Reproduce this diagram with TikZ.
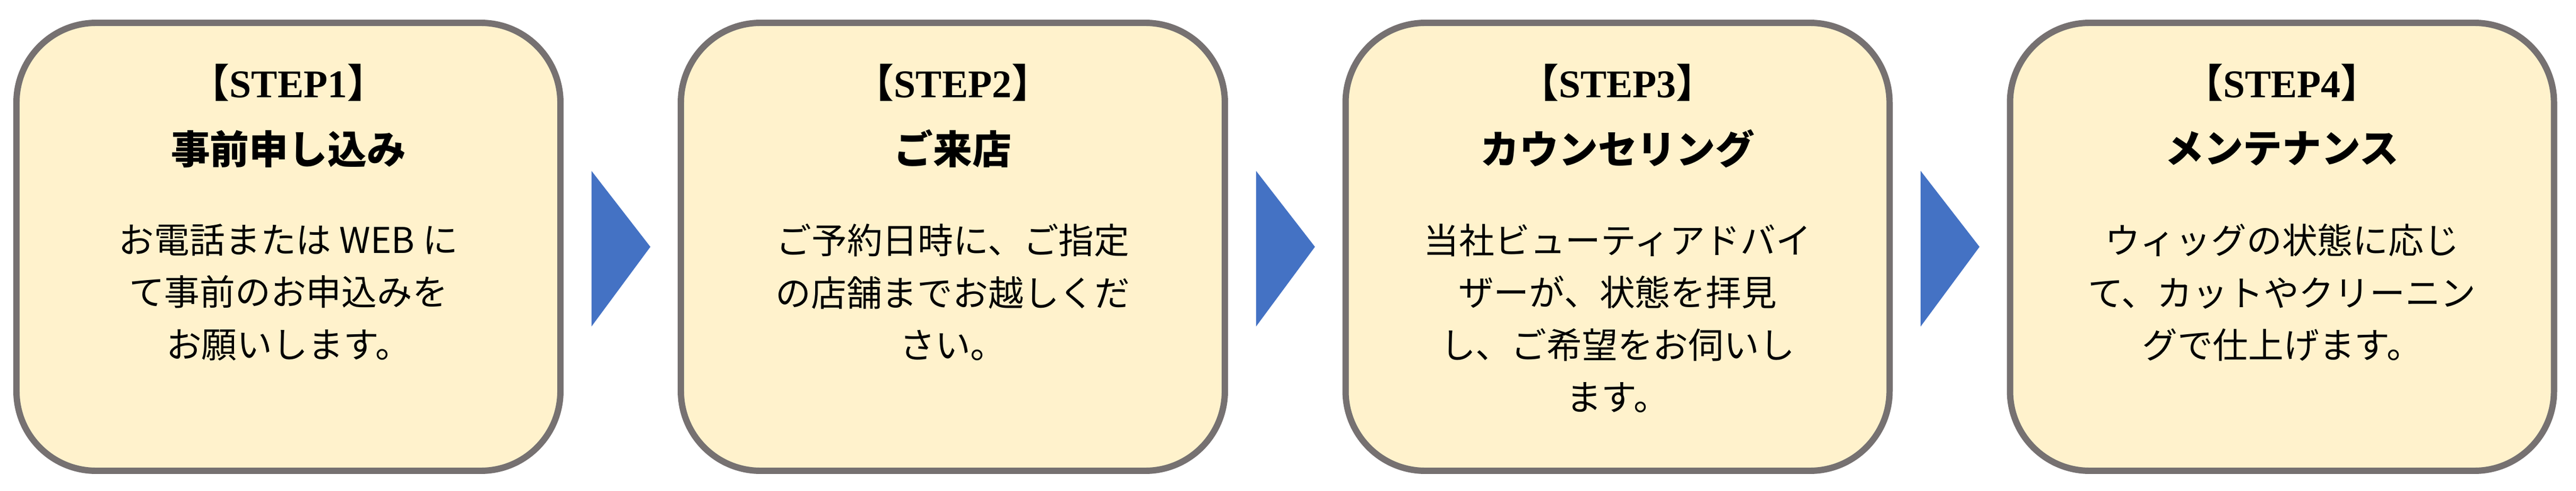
\documentclass[tikz,border=0pt]{standalone}
\usepackage{fontspec}
\setmainfont{Noto Sans CJK JP}
\newfontfamily\stepfont{Liberation Serif}
\usetikzlibrary{positioning,calc}
\definecolor{boxfill}{HTML}{FFF2CC}
\definecolor{boxline}{HTML}{767171}
\definecolor{arrowblue}{HTML}{4472C4}
\tikzset{
  stepbox/.style={draw=boxline,line width=3.4pt,fill=boxfill,rounded corners=1.5cm,
    minimum width=10.25cm,minimum height=8.43cm},
  steptitle/.style={font=\fontsize{21}{25}\selectfont\bfseries},
  stepbody/.style={font=\fontsize{19}{28}\selectfont,align=center,anchor=north},
  steparrow/.style={fill=arrowblue}
}
\begin{document}
\begin{tikzpicture}
\useasboundingbox (0,0) rectangle (48.54,9.23);
\node[stepbox] (box1) at (5.435,4.585) {};
\node[stepbox] (box2) at (17.955,4.585) {};
\node[stepbox] (box3) at (30.48,4.585) {};
\node[stepbox] (box4) at (43.0,4.585) {};

%titles
\foreach \i/\name in {1/事前申し込み,2/ご来店,3/カウンセリング,4/メンテナンス}{
  \node[steptitle] (top\i) at ($(box\i.north)+(0,-1.18)$) {【{\stepfont STEP\i}】};
  \node[steptitle] (name\i) at ($(box\i.north)+(0,-2.43)$) {\name};
}

%body
\node[stepbody] (body1) at ($(box1.north)+(0,-3.72)$) {お電話または WEB に\\て事前のお申込みを\\お願いします。};
\node[stepbody] (body2) at ($(box2.north)+(0,-3.72)$) {ご予約日時に、ご指定\\の店舗までお越しくだ\\さい。};
\node[stepbody] (body3) at ($(box3.north)+(0,-3.72)$) {当社ビューティアドバイ\\ザーが、状態を拝見\\し、ご希望をお伺いし\\ます。};
\node[stepbody] (body4) at ($(box4.north)+(0,-3.72)$) {ウィッグの状態に応じ\\て、カットやクリーニン\\グで仕上げます。};

%arrows
\foreach \a/\b in {1/2,2/3,3/4}{
  \path (box\a.east) -- (box\b.west) coordinate[pos=0.5] (mid\a);
  \fill[steparrow] ($(mid\a)+(-0.55,1.43)$) -- ($(mid\a)+(0.56,0)$) -- ($(mid\a)+(-0.55,-1.5)$) -- cycle;
}
\end{tikzpicture}
\end{document}
